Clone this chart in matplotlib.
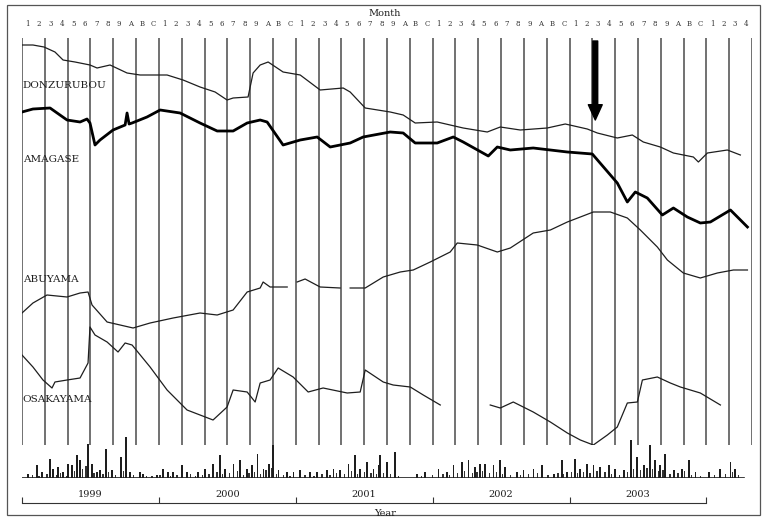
import numpy as np
import matplotlib
matplotlib.use("Agg")
import matplotlib.pyplot as plt
from matplotlib.patches import Rectangle

nan = np.nan

# --- data: months since Jan 1999, relative strain level (arbitrary units) ---
don_m = [0, 0.96, 1.93, 2.89, 3.6, 4.65, 5.96, 6.58, 7.72, 9.21, 10.35, 12.72, 14.12, 15.61,
         16.93, 17.98, 18.51, 19.82, 20.26, 20.88, 21.58, 22.89, 24.39, 26.14, 28.16, 28.77,
         30.09, 32.28, 33.42, 34.47, 36.4, 37.54, 38.68, 40.79, 41.93, 43.68, 46.05, 47.63,
         49.56, 50.44, 52.19, 53.51, 54.47, 55.96, 57.11, 58.86, 59.3, 60.09, 61.84, 62.98]
don_v = [455, 455, 453, 448, 440, 438, 435, 432, 435, 427, 425, 425, 420, 413, 408, 400, 402,
         403, 427, 435, 438, 428, 425, 410, 412, 408, 392, 388, 385, 377, 378, 375, 372, 368,
         373, 370, 372, 376, 371, 367, 362, 365, 358, 353, 347, 343, 338, 347, 350, 345]

ama_m = [0, 0.96, 2.46, 3.95, 5.09, 5.7, 5.96, 6.4, 6.84, 7.98, 9.04, 9.21, 9.39, 9.65, 10.96,
         12.11, 13.86, 15.61, 17.11, 18.51, 19.74, 20.88, 21.49, 22.89, 24.39, 25.88, 27.02,
         28.77, 29.91, 32.28, 33.42, 34.47, 36.4, 37.81, 38.68, 40.88, 41.67, 42.81, 44.82,
         47.81, 50.0, 52.19, 53.07, 53.77, 54.82, 56.14, 57.11, 58.33, 59.47, 60.35, 62.11, 63.6]
ama_v = [388, 391, 392, 380, 378, 381, 377, 355, 360, 370, 375, 387, 376, 377, 383, 390, 387,
         377, 369, 369, 377, 380, 378, 355, 360, 363, 353, 357, 363, 368, 367, 357, 357, 363,
         358, 344, 353, 350, 352, 348, 346, 317, 298, 308, 302, 285, 292, 283, 277, 278, 290, 273]

abu_m = [0, 0.96, 2.19, 3.95, 5.09, 5.79, 6.14, 7.46, 8.6, 9.74, 11.23, 13.25, 15.61, 17.11,
         18.51, 19.74, 20.88, 21.14, 21.75, 23.25, 23.7, 24.12, 24.82, 26.14, 27.89, 28.3,
         28.77, 30.09, 31.67, 33.16, 34.3, 35.79, 37.54, 38.16, 39.91, 41.67, 42.81, 44.82,
         46.32, 47.81, 50.09, 51.58, 53.07, 54.21, 55.7, 56.58, 57.98, 59.47, 60.96, 62.37, 63.6]
abu_v = [187, 197, 205, 203, 207, 208, 195, 178, 175, 172, 177, 182, 187, 185, 190, 208, 212,
         218, 213, 213, nan, 218, 221, 213, 212, nan, 212, 212, 223, 228, 230, 238, 248, 257,
         255, 248, 252, 267, 270, 278, 288, 288, 282, 270, 253, 240, 227, 222, 227, 230, 230]

osa_m = [0, 0.96, 1.84, 2.63, 2.89, 3.95, 5.09, 5.79, 5.96, 6.4, 7.46, 8.42, 9.04, 9.65, 11.23,
         12.72, 14.47, 16.75, 17.98, 18.51, 19.74, 20.44, 20.88, 21.75, 22.46, 23.77, 25.09,
         26.4, 28.51, 29.65, 30.09, 31.67, 32.54, 34.04, 35.18, 36.67, 39.0, 41.05, 41.93,
         43.07, 44.82, 46.32, 47.81, 48.95, 50.09, 51.32, 52.19, 53.07, 53.95, 54.39, 55.7,
         56.84, 57.72, 59.47, 61.23]
osa_v = [145, 133, 120, 112, 118, 120, 122, 137, 173, 165, 158, 148, 157, 155, 133, 110, 90,
         80, 93, 110, 108, 98, 117, 120, 132, 123, 108, 112, 107, 108, 130, 118, 115, 113, 105,
         95, nan, 95, 92, 98, 88, 78, 67, 60, 55, 65, 73, 97, 98, 120, 123, 117, 113, 107, 95]

# daily precipitation (mm), read roughly: larger events
rain_m = [0.55, 1.29, 1.73, 2.46, 2.75, 3.18, 3.62, 4.06, 4.36, 4.8, 5.09, 5.82, 6.11, 6.55,
          6.84, 7.37, 7.87, 8.66, 9.12, 9.47, 10.35, 10.64, 11.82, 12.39, 12.83, 13.27, 14.01,
          14.45, 15.46, 16.05, 16.78, 17.37, 17.81, 18.54, 19.12, 19.71, 20.15, 20.64, 21.17,
          21.69, 22.04, 22.48, 23.22, 23.8, 24.39, 25.26, 25.85, 26.73, 27.31, 27.89, 28.62,
          29.21, 29.65, 30.24, 30.82, 31.25, 31.4, 31.99, 32.72, 34.62, 35.35, 36.52, 37.25,
          37.83, 38.57, 39.15, 39.74, 40.18, 40.61, 41.34, 41.93, 42.37, 43.39, 43.97, 44.85,
          45.59, 46.61, 47.34, 47.78, 48.51, 48.95, 49.54, 50.11, 50.7, 51.43, 52.02, 52.75,
          53.39, 53.92, 54.5, 55.03, 55.53, 55.96, 56.4, 57.13, 57.87, 58.45, 59.04, 60.2,
          61.23, 62.11, 62.54]
rain_mm = [4, 13, 6, 19, 9, 11, 6, 14, 13, 23, 18, 34, 14, 6, 8, 29, 8, 21, 41, 6, 6, 4, 3, 9,
           6, 6, 13, 6, 6, 9, 14, 23, 9, 14, 18, 9, 13, 24, 9, 14, 33, 8, 6, 6, 8, 6, 6, 8, 9,
           8, 14, 23, 9, 16, 9, 13, 23, 16, 26, 4, 6, 9, 6, 13, 16, 18, 11, 14, 14, 13, 18, 11,
           6, 8, 9, 13, 4, 18, 6, 19, 9, 14, 13, 11, 13, 9, 8, 38, 21, 13, 33, 18, 13, 24, 8, 9,
           18, 6, 6, 9, 16, 9]
# small daily amounts between events
drizzle_m = [0.9, 1.5, 2.2, 3.0, 3.4, 3.9, 4.6, 5.3, 5.6, 6.3, 7.1, 7.6, 8.2, 8.9, 9.8, 10.9,
             11.4, 12.1, 13.0, 13.6, 14.8, 15.2, 15.8, 16.4, 17.1, 17.6, 18.2, 18.9, 19.4, 19.9,
             20.4, 20.9, 21.4, 21.9, 22.3, 22.9, 23.5, 24.8, 25.6, 26.3, 27.0, 27.6, 28.3, 28.9,
             29.4, 30.0, 30.6, 31.1, 31.7, 32.3, 33.0, 35.0, 36.0, 36.9, 37.5, 38.2, 38.8, 39.5,
             39.9, 40.4, 41.0, 41.6, 42.1, 42.8, 43.7, 44.4, 45.2, 46.1, 47.0, 47.5, 48.2, 48.7,
             49.2, 49.8, 50.4, 51.1, 51.7, 52.4, 53.1, 53.6, 54.2, 54.8, 55.3, 55.8, 56.2, 56.8,
             57.5, 58.1, 58.7, 59.5, 60.7, 61.7, 62.3, 62.8]
drizzle_mm = [3, 2, 4, 3, 5, 2, 7, 9, 12, 5, 4, 6, 3, 7, 3, 2, 2, 3, 2, 3, 4, 2, 3, 4, 6, 4, 5,
              7, 3, 5, 6, 4, 8, 10, 4, 3, 2, 3, 2, 4, 3, 5, 4, 7, 4, 6, 5, 4, 5, 4, 2, 2, 3, 4,
              3, 5, 7, 5, 6, 7, 5, 6, 4, 3, 3, 4, 5, 3, 5, 4, 6, 5, 6, 5, 7, 6, 4, 3, 6, 9, 8,
              10, 9, 7, 8, 4, 5, 7, 3, 2, 3, 4, 6, 3]

month_labels = ['1', '2', '3', '4', '5', '6', '7', '8', '9', 'A', 'B', 'C']
years = ['1999', '2000', '2001', '2002', '2003']
n_months = 64

W, H = 764, 520
fig = plt.figure(figsize=(W / 100, H / 100), dpi=100)
fig.patch.set_facecolor('white')
serif = 'DejaVu Serif'
ink = '#1e1e1e'


def box(x0, y0, x1, y1):
    # pixel box (top-left origin) -> figure fraction
    return [x0 / W, 1 - y1 / H, (x1 - x0) / W, (y1 - y0) / H]


# outer frame
fig.add_artist(Rectangle((7 / W, 5 / H), 753 / W, 510 / H, transform=fig.transFigure,
                         fill=False, lw=0.9, ec='#555555'))
fig.text(385 / W, 1 - 13 / H, 'Month', family=serif, fontsize=7, ha='center', va='center',
         color=ink)

# month label row
axm = fig.add_axes(box(22, 16, 752, 32))
axm.set_xlim(0, n_months)
axm.set_ylim(0, 1)
axm.axis('off')
for i in range(n_months):
    axm.text(i + 0.5, 0.5, month_labels[i % 12], family=serif, fontsize=5,
             ha='center', va='center', color='#333333')

# main strain panel
ax = fig.add_axes(box(22, 38, 752, 445))
ax.set_xlim(0, n_months)
ax.set_ylim(55, 462)
ax.axis('off')
for m in range(0, n_months + 1, 2):
    ax.axvline(m, color='#4a4a4a', lw=1.1)

ax.plot(don_m, don_v, color=ink, lw=0.9)
ax.plot(ama_m, ama_v, color='black', lw=2.0)
ax.plot(abu_m, abu_v, color=ink, lw=0.9)
ax.plot(osa_m, osa_v, color=ink, lw=0.9)

lab = dict(family=serif, fontsize=7.5, ha='left', va='center', color=ink)
ax.text(0.05, 414, 'DONZURUBOU', **lab)
ax.text(0.05, 340, 'AMAGASE', **lab)
ax.text(0.05, 221, 'ABUYAMA', **lab)
ax.text(0.05, 100, 'OSAKAYAMA', **lab)

ax.annotate('', xy=(50.26, 380), xytext=(50.26, 459),
            arrowprops=dict(width=3.5, headwidth=10, headlength=11, color='black'))

# precipitation panel
axr = fig.add_axes(box(22, 435, 752, 478))
axr.set_xlim(0, n_months)
axr.set_ylim(0, 43)
axr.axis('off')
axr.bar(drizzle_m, drizzle_mm, width=0.12, color='#333333', align='center')
axr.bar(rain_m, rain_mm, width=0.16, color=ink, align='center')
axr.plot([0, 63.3], [0, 0], color=ink, lw=1.2)

# year axis
axy = fig.add_axes(box(22, 488, 752, 503))
axy.set_xlim(0, n_months)
axy.set_ylim(0, 1)
for s in ['top', 'left', 'right']:
    axy.spines[s].set_visible(False)
axy.spines['bottom'].set_bounds(0, 60)
axy.spines['bottom'].set_color('#333333')
axy.set_yticks([])
axy.set_xticks(range(0, 61, 12))
axy.tick_params(axis='x', direction='in', length=4, width=0.8, color='#333333',
                labelbottom=False)
for k, y in enumerate(years):
    axy.text(6 + 12 * k, 0.55, y, family=serif, fontsize=7, ha='center', va='center',
             color=ink)
fig.text(385 / W, 1 - 513 / H, 'Year', family=serif, fontsize=7, ha='center', va='center',
         color=ink)

fig.savefig('out.png', dpi=100, facecolor='white')
